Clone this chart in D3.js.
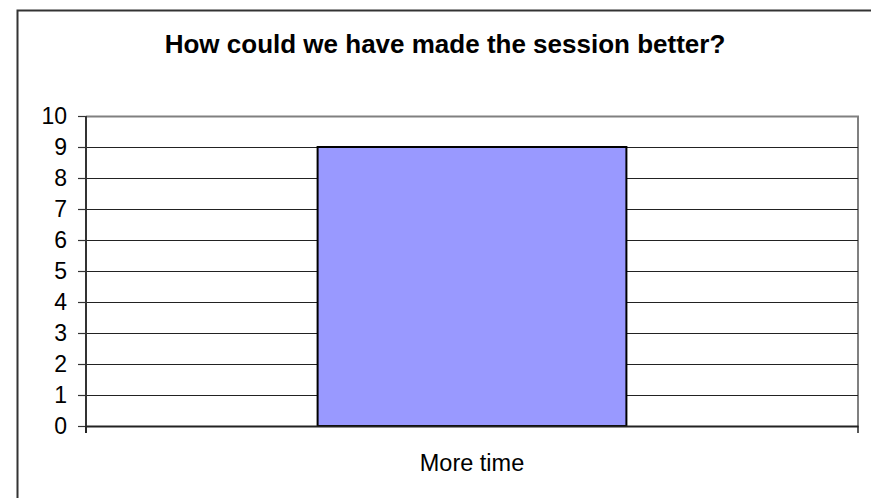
<!DOCTYPE html>
<html>
<head>
<meta charset="utf-8">
<script src="https://cdn.jsdelivr.net/npm/d3@7"></script>
<style>
  html, body { margin: 0; padding: 0; background: #fff; }
  svg { display: block; }
</style>
</head>
<body>
<svg id="chart" width="871" height="498"></svg>
<script>
// Survey result: responses per suggestion
const categories = ["More time"];
const counts = [9];
const yTicks = [0, 1, 2, 3, 4, 5, 6, 7, 8, 9, 10];
const titleText = "How could we have made the session better?";

const svg = d3.select("#chart");
const W = 871, H = 498;
const plot = { left: 86, right: 858, top: 116, bottom: 426 };
const font = "Arial, 'Liberation Sans', sans-serif";

// Chart frame (extends beyond the right and bottom edges)
svg.append("rect")
  .attr("x", 17.5).attr("y", 10.5)
  .attr("width", W + 20).attr("height", H + 20)
  .attr("fill", "#fff").attr("stroke", "#333").attr("stroke-width", 2);

// Title
svg.append("text")
  .attr("x", 445).attr("y", 53)
  .attr("text-anchor", "middle")
  .attr("font-family", font).attr("font-weight", "bold").attr("font-size", 26)
  .attr("fill", "#000")
  .text(titleText);

const x = d3.scaleBand().domain(categories).range([plot.left, plot.right]).padding(0);
const y = d3.scaleLinear().domain([0, 10]).range([plot.bottom, plot.top]);

// Plot area border (top and right, gray)
svg.append("path")
  .attr("d", `M${plot.left},${plot.top + 0.5}H${plot.right}V${plot.bottom}`)
  .attr("fill", "none").attr("stroke", "#808080").attr("stroke-width", 2);

// Horizontal gridlines
svg.append("g").selectAll("line")
  .data(yTicks.filter(t => t > 0 && t < 10))
  .join("line")
  .attr("x1", plot.left).attr("x2", plot.right)
  .attr("y1", d => Math.round(y(d)) + 0.5).attr("y2", d => Math.round(y(d)) + 0.5)
  .attr("stroke", "#222").attr("stroke-width", 1.2);

// Bars
const barFrac = 0.4;
svg.append("g").selectAll("rect")
  .data(categories.map((c, i) => ({ c, v: counts[i] })))
  .join("rect")
  .attr("x", d => x(d.c) + x.bandwidth() * (1 - barFrac) / 2)
  .attr("width", x.bandwidth() * barFrac)
  .attr("y", d => y(d.v))
  .attr("height", d => y(0) - y(d.v))
  .attr("fill", "#9999ff").attr("stroke", "#000").attr("stroke-width", 2);

// Y axis
const yAxis = svg.append("g")
  .attr("transform", `translate(${plot.left},0)`)
  .call(d3.axisLeft(y).tickValues(yTicks).tickSize(8).tickPadding(11).tickSizeOuter(0));
yAxis.select(".domain").attr("stroke", "#333").attr("stroke-width", 2)
  .attr("d", `M0,${plot.top}V${plot.bottom + 7}`);
yAxis.selectAll(".tick line").attr("stroke", "#333").attr("stroke-width", 1.2);
yAxis.selectAll(".tick text")
  .attr("font-family", font).attr("font-size", 23).attr("fill", "#000");

// X axis
const xAxis = svg.append("g")
  .attr("transform", `translate(0,${plot.bottom})`)
  .call(d3.axisBottom(x).tickSize(0).tickPadding(28).tickSizeOuter(0));
xAxis.select(".domain").attr("stroke", "#222").attr("stroke-width", 2);
xAxis.selectAll(".tick text")
  .attr("font-family", font).attr("font-size", 23.5).attr("fill", "#000");
// Category boundary ticks below the axis
xAxis.append("g").selectAll("line")
  .data([plot.left, plot.right])
  .join("line")
  .attr("x1", d => d).attr("x2", d => d)
  .attr("y1", 0).attr("y2", 7)
  .attr("stroke", "#222").attr("stroke-width", 1.5);
</script>
</body>
</html>
